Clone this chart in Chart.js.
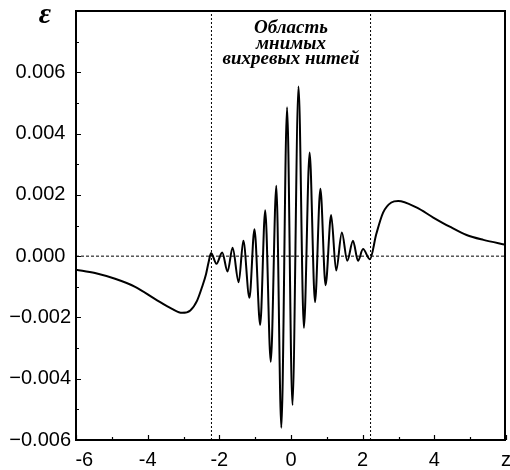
<!DOCTYPE html>
<html><head><meta charset="utf-8">
<script src="https://cdn.jsdelivr.net/npm/chart.js@4/dist/chart.umd.min.js"></script>
<style>html,body{margin:0;padding:0;background:#fff;}</style>
</head><body>
<canvas id="c" width="510" height="470"></canvas>
<script>
// ---- data ----
const zValues = [
  -6.00, -5.47, -4.91, -4.35, -3.79, -3.32, -3.04, -2.81, -2.62, -2.48, -2.37, -2.30, -2.23,
  -2.08, -1.92, -1.77, -1.63, -1.46, -1.33, -1.16, -1.02, -0.86, -0.72, -0.565, -0.41,
  -0.27, -0.11, 0.04, 0.21, 0.36, 0.52, 0.67, 0.82, 0.965, 1.12, 1.26, 1.42, 1.57, 1.73,
  1.87, 2.01, 2.20,
  2.38, 2.57, 2.80, 2.99, 3.50, 3.97, 4.43, 4.90, 5.37, 6.00
];
const epsValues = [
  -0.00044, -0.00055, -0.00074, -0.00100, -0.00140, -0.00172, -0.00185, -0.00177, -0.00145, -0.00100, -0.00058, -0.00020, 0.00010,
  -0.00025, 0.00012, -0.00050, 0.00027, -0.00085, 0.00050, -0.00136, 0.00088, -0.00224, 0.00150, -0.00345, 0.00230,
  -0.00560, 0.00486, -0.00486, 0.00554, -0.00234, 0.00338, -0.00150, 0.00220, -0.00095, 0.00134, -0.00047, 0.00077, -0.00015, 0.00050,
  -0.00015, 0.00023, -0.00010,
  0.00072, 0.00142, 0.00175, 0.00180, 0.00159, 0.00126, 0.00096, 0.00069, 0.00053, 0.00037
];
const xRange = [-6, 6];
const yRange = [-0.006, 0.008];
const xTicks = [-6, -4, -2, 0, 2, 4, 6];
const xTickLabels = ['-6', '-4', '-2', '0', '2', '4', 'z'];
const xMinorTicks = [-5, -3, -1, 1, 3, 5];
const yTicks = [-0.006, -0.004, -0.002, 0, 0.002, 0.004, 0.006, 0.008];
const yTickLabels = ['\u22120.006', '\u22120.004', '\u22120.002', '0.000', '0.002', '0.004', '0.006', ''];
const yMinorTicks = [-0.005, -0.003, -0.001, 0.001, 0.003, 0.005, 0.007];
const regionBounds = [-2.22, 2.22];
const zeroLevel = 0;
const regionLabel = ['Область', 'мнимых', 'вихревых нитей'];
const axisLabel = 'ε';

const curve = zValues.map((z, i) => ({x: z, y: epsValues[i]}));
const zeroLine = [{x: xRange[0], y: zeroLevel}, {x: xRange[1], y: zeroLevel}];
const boundLines = regionBounds.map(b => [{x: b, y: yRange[0]}, {x: b, y: yRange[1]}]);

const framePlugin = {
  id: 'frame',
  afterDraw(chart) {
    const {ctx, chartArea: a, scales: {x, y}} = chart;
    const L = Math.round(a.left), R = Math.round(a.right) - 1, T = Math.round(a.top), B = Math.round(a.bottom);
    ctx.save();
    ctx.setLineDash([]);
    ctx.strokeStyle = '#000';
    ctx.lineWidth = 2;
    ctx.beginPath();
    ctx.moveTo(L, T); ctx.lineTo(R, T); ctx.lineTo(R, B); ctx.lineTo(L, B); ctx.closePath();
    ctx.stroke();
    ctx.lineWidth = 1.2;
    ctx.beginPath();
    xTicks.forEach(v => { const px = Math.round(x.getPixelForValue(v)) + 0.5; ctx.moveTo(px, B); ctx.lineTo(px, B - 5); });
    xMinorTicks.forEach(v => { const px = Math.round(x.getPixelForValue(v)) + 0.5; ctx.moveTo(px, B); ctx.lineTo(px, B - 3); });
    yTicks.forEach(v => { const py = Math.round(y.getPixelForValue(v)) + 0.5; ctx.moveTo(L, py); ctx.lineTo(L + 5, py); });
    yMinorTicks.forEach(v => { const py = Math.round(y.getPixelForValue(v)) + 0.5; ctx.moveTo(L, py); ctx.lineTo(L + 3, py); });
    ctx.stroke();
    // axis symbol
    ctx.fillStyle = '#000';
    ctx.font = 'bold italic 30px "Liberation Serif"';
    ctx.textAlign = 'center';
    ctx.textBaseline = 'alphabetic';
    ctx.fillText(axisLabel, a.left - 31, a.top + 12);
    // region label
    ctx.font = 'bold italic 19px "Liberation Serif"';
    const cx = x.getPixelForValue(0);
    regionLabel.forEach((t, i) => ctx.fillText(t, cx, a.top + 22 + i * 15.5));
    ctx.restore();
  }
};

new Chart(document.getElementById('c'), {
  type: 'line',
  data: {
    datasets: [
      {data: zeroLine, borderColor: '#000', borderWidth: 1, borderDash: [3, 2], pointRadius: 0, tension: 0},
      {data: boundLines[0], borderColor: '#000', borderWidth: 1, borderDash: [2, 2], pointRadius: 0, tension: 0},
      {data: boundLines[1], borderColor: '#000', borderWidth: 1, borderDash: [2, 2], pointRadius: 0, tension: 0},
      {data: curve, borderColor: '#000', borderWidth: 2, pointRadius: 0, cubicInterpolationMode: 'monotone', fill: false}
    ]
  },
  options: {
    responsive: false,
    animation: false,
    devicePixelRatio: 1,
    layout: {padding: {left: 0, top: 11, right: 4, bottom: 0}},
    plugins: {legend: {display: false}, tooltip: {enabled: false}},
    scales: {
      x: {
        type: 'linear', min: xRange[0], max: xRange[1],
        afterBuildTicks: s => { s.ticks = xTicks.map(v => ({value: v})); },
        afterFit: s => { s.height = 30; s.paddingLeft = 0; s.paddingRight = 0; },
        grid: {display: false, drawTicks: false},
        border: {display: false},
        ticks: {
          autoSkip: false, maxRotation: 0, padding: 8, color: '#000',
          font: {family: '"Liberation Sans"', size: 20},
          callback: (v, i) => { const l = xTickLabels[xTicks.indexOf(v)]; return i === 0 ? '\u00a0\u00a0\u00a0' + l : l; }
        }
      },
      y: {
        type: 'linear', min: yRange[0], max: yRange[1],
        afterBuildTicks: s => { s.ticks = yTicks.map(v => ({value: v})); },
        afterFit: s => { s.width = 76; s.paddingTop = 0; s.paddingBottom = 0; },
        grid: {display: false, drawTicks: false},
        border: {display: false},
        ticks: {
          autoSkip: false, padding: 5, color: '#000',
          font: {family: '"Liberation Sans"', size: 20},
          callback: v => {
            const k = yTicks.findIndex(t => Math.abs(t - v) < 1e-9);
            if (k < 0) return '';
            return yTicks[k] >= 0 ? yTickLabels[k] + '\u00a0' : yTickLabels[k];
          }
        }
      }
    }
  },
  plugins: [framePlugin]
});
</script>
</body></html>
